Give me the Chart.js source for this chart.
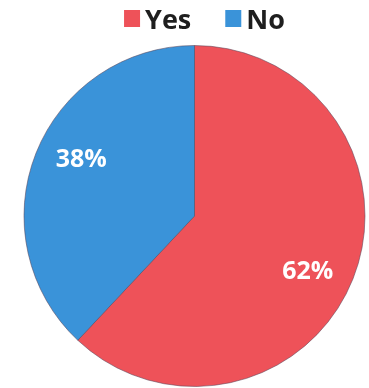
<!DOCTYPE html>
<html>
<head>
<meta charset="utf-8">
<script src="https://cdn.jsdelivr.net/npm/chart.js@4"></script>
<style>
  html, body { margin: 0; padding: 0; background: #fff; }
  #wrap { width: 369px; height: 388px; }
</style>
</head>
<body>
<div id="wrap"><canvas id="chart"></canvas></div>
<script>
const categories = ['Yes', 'No'];
const shares = [62, 38];
const sliceColors = ['#ee5259', '#3a93d9'];

// legend drawn by hand so the swatch sits tight against the text
const topLegend = {
  id: 'topLegend',
  afterDraw(chart) {
    const ctx = chart.ctx;
    const ds = chart.data.datasets[0];
    ctx.save();
    ctx.font = 'bold 27px "Open Sans", sans-serif';
    ctx.textBaseline = 'alphabetic';
    const box = 16, gap = 5, itemGap = 34;
    const widths = chart.data.labels.map(l => box + gap + ctx.measureText(l).width);
    const total = widths.reduce((a, b) => a + b, 0) + itemGap * (widths.length - 1);
    const cx = (chart.chartArea.left + chart.chartArea.right) / 2 + 10;
    let x = cx - total / 2;
    chart.data.labels.forEach((label, i) => {
      ctx.fillStyle = ds.backgroundColor[i];
      ctx.fillRect(x, 10, box, 17);
      ctx.fillStyle = '#1e1e1e';
      ctx.fillText(label, x + box + gap, 29);
      x += widths[i] + itemGap;
    });
    ctx.restore();
  }
};

// draws the percent text inside each slice
const pctLabels = {
  id: 'pctLabels',
  afterDatasetsDraw(chart) {
    const ctx = chart.ctx;
    const meta = chart.getDatasetMeta(0);
    ctx.save();
    ctx.font = 'bold 25px "Open Sans", sans-serif';
    ctx.fillStyle = '#fff';
    ctx.textAlign = 'center';
    ctx.textBaseline = 'middle';
    meta.data.forEach((arc, i) => {
      const p = arc.getProps(['x', 'y', 'startAngle', 'endAngle', 'outerRadius'], true);
      const mid = (p.startAngle + p.endAngle) / 2 + 0.08;
      const r = p.outerRadius * 0.74;
      ctx.fillText(shares[i] + '%', p.x + Math.cos(mid) * r, p.y + Math.sin(mid) * r);
    });
    ctx.restore();
  }
};

new Chart(document.getElementById('chart'), {
  type: 'pie',
  data: {
    labels: categories,
    datasets: [{
      data: shares,
      backgroundColor: sliceColors,
      borderColor: 'rgba(90,70,90,0.55)',
      borderWidth: 1
    }]
  },
  options: {
    responsive: true,
    maintainAspectRatio: false,
    animation: false,
    layout: { padding: { left: 20, right: 0, top: 45, bottom: 1 } },
    plugins: {
      legend: { display: false },
      tooltip: { enabled: false }
    }
  },
  plugins: [pctLabels, topLegend]
});
</script>
</body>
</html>
